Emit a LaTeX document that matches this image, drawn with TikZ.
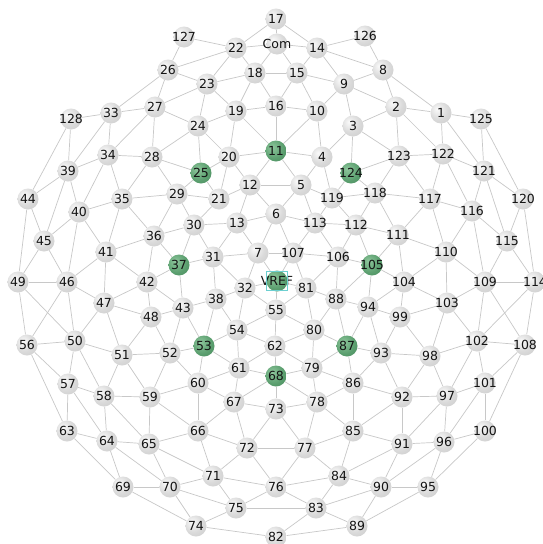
\documentclass[tikz,border=0pt]{standalone}
\usepackage{fontspec}
\setmainfont{DejaVu Sans}
\usetikzlibrary{backgrounds}
\definecolor{edgec}{HTML}{C8C8C8}
\definecolor{txt}{HTML}{141414}
\definecolor{gA}{HTML}{FAFAFA}
\definecolor{gB}{HTML}{DADADA}
\definecolor{gC}{HTML}{C0C0C0}
\definecolor{nA}{HTML}{8FC79D}
\definecolor{nB}{HTML}{5A9E6E}
\definecolor{nC}{HTML}{3C7A50}
\definecolor{vbox}{HTML}{6CCFD0}
\pgfdeclareradialshading{greyball}{\pgfpoint{-10bp}{10bp}}{color(0bp)=(gA); color(22bp)=(gB); color(55bp)=(gC); color(70bp)=(gC)}
\pgfdeclareradialshading{greenball}{\pgfpoint{-10bp}{10bp}}{color(0bp)=(nA); color(25bp)=(nB); color(55bp)=(nC); color(70bp)=(nC)}
\newcommand\lbl[1]{\makebox[0pt]{#1}}
\tikzset{
  gnode/.style={circle, minimum size=21pt, inner sep=0pt, shading=greyball, text=txt, font=\fontsize{12.5}{14}\selectfont},
  grnode/.style={gnode, shading=greenball},
  edge/.style={draw=edgec, line width=0.7pt},
  vrefbox/.style={draw=vbox, line width=1pt, minimum width=21pt, minimum height=19pt, inner sep=0pt}
}
\begin{document}
\begin{tikzpicture}[x=1pt,y=-1pt]
\useasboundingbox (0,0) rectangle (542,544);
% grey nodes
\foreach \n/\x/\y in {17/276/19, 14/317/48, 126/365/36, 8/383/70, 127/184/37, 22/236/48,
 26/168/70, 18/255/73, 15/297/73, 9/344/84, 2/396/107, 1/441/113, 125/481/119,
 23/207/84, 27/155/107, 33/111/113, 128/71/119, 19/236/111, 16/276/106, 10/317/111,
 3/353/126, 24/198/126, 4/322/157, 20/229/157, 28/152/157, 34/108/155, 39/68/171,
 123/399/156, 122/443/154, 121/484/171, 12/250/185, 5/301/185, 119/332/198,
 118/375/193, 117/430/199, 116/472/211, 120/523/199, 44/28/199, 40/79/212, 35/122/199,
 29/177/194, 21/219/199, 30/194/225, 13/237/223, 6/276/214, 113/315/223, 112/356/225,
 111/398/235, 115/507/241, 110/446/252, 45/44/241, 41/106/252, 36/154/236,
 31/213/257, 7/258/253, 107/293/253, 106/338/257, 109/485/282, 114/535/282,
 49/18/282, 46/67/282, 42/147/282, 32/245/288, 81/306/288, 88/336/299, 104/404/282,
 47/104/303, 48/151/317, 43/183/308, 38/216/299, 55/276/310, 94/368/307, 99/400/317,
 103/447/303, 56/27/345, 50/75/341, 51/122/355, 52/170/353, 54/237/330, 62/275/346,
 80/314/330, 93/381/353, 98/430/356, 102/477/341, 108/525/345, 57/68/384, 58/104/396,
 59/150/397, 60/198/383, 61/239/368, 79/312/368, 86/353/383, 92/402/397, 97/447/396,
 101/485/383, 63/67/431, 64/107/441, 65/149/444, 66/198/431, 67/234/402, 73/276/409,
 78/317/402, 85/353/431, 91/402/444, 96/444/442, 100/485/431, 69/123/487, 70/170/487,
 71/213/476, 72/247/448, 77/305/448, 84/339/476, 76/276/487, 90/381/487, 95/428/487,
 74/196/526, 75/236/508, 83/316/508, 89/357/526, 82/276/537}
  \node[gnode] (\n) at (\x,\y) {\lbl{\n}};
\node[gnode] (Com) at (277,44) {\lbl{Com}};
% green nodes
\foreach \n/\x/\y in {11/276/151, 25/201/173, 124/351/173, 37/179/265, 105/372/265,
 53/204/346, 87/347/346, 68/276/376}
  \node[grnode] (\n) at (\x,\y) {\lbl{\n}};
\node[grnode] (VREF) at (277,281) {\lbl{VREF}};
\node[vrefbox] (vrefframe) at (VREF.center) {};
% edges
\begin{scope}[on background layer]
\fill[white] (0,0) rectangle (542,544);
\foreach \a/\b in {17/22, 17/Com, 17/14, 127/22, 127/26, 22/Com, 22/18, 22/23, 22/26,
 Com/18, Com/15, Com/14, 14/15, 14/9, 14/126, 14/8, 126/8, 8/9, 8/2, 8/1,
 18/15, 18/16, 18/19, 18/23, 15/16, 15/10, 15/9, 9/10, 9/2, 9/3,
 23/19, 23/24, 23/27, 23/26, 19/16, 19/24, 19/20, 19/11, 16/10, 16/11,
 10/11, 10/4, 2/3, 2/1, 2/123, 2/122, 1/125, 1/122, 1/121, 125/121, 125/120,
 3/4, 3/123, 3/124, 4/11, 4/5, 4/119, 122/123, 122/121, 122/117, 122/116,
 121/116, 121/115, 121/120, 123/124, 123/117, 123/118,
 26/27, 26/33, 33/27, 33/34, 33/39, 33/128, 27/24, 27/28, 27/34, 128/39, 128/44,
 24/20, 24/25, 24/28, 20/11, 20/12, 20/21, 20/25, 11/12, 11/5,
 12/5, 12/6, 12/13, 12/21, 5/6, 5/113, 5/119, 119/124, 119/118, 119/112, 119/113,
 124/118, 118/117, 118/111, 118/112, 117/116, 117/110, 117/111,
 116/115, 116/109, 116/110, 120/115, 120/114, 115/109, 115/114,
 34/28, 34/35, 34/40, 34/39, 39/44, 39/45, 39/40, 28/25, 28/29, 28/35,
 25/21, 25/29, 21/29, 21/30, 13/6, 13/7, 13/30, 13/31, 6/7, 6/107, 6/113,
 113/112, 113/106, 113/107, 112/111, 112/105, 112/106, 111/110, 111/104, 111/105,
 110/109, 110/103, 110/104, 109/114, 109/103, 109/102, 109/108, 114/102, 114/108,
 44/45, 44/49, 40/35, 40/41, 40/46, 40/45, 35/29, 35/36, 35/41, 29/30, 29/36,
 30/36, 30/37, 30/31, 31/7, 31/32, 31/38, 31/37, 7/107, 7/VREF, 7/32,
 107/106, 107/81, 107/VREF, 106/105, 106/88, 106/81, 105/104, 105/94, 105/88,
 104/103, 104/99, 104/94, 103/102, 103/98, 103/99, 45/49, 45/46,
 41/36, 41/42, 41/47, 41/46, 36/37, 36/42, 37/42, 37/43,
 VREF/32, VREF/81, VREF/55, 32/55, 32/54, 32/38, 81/88, 81/80, 81/55,
 88/94, 88/87, 88/80, 94/99, 94/93, 94/87, 99/98, 99/93,
 102/98, 102/97, 102/101, 102/108, 108/101, 108/100,
 49/46, 49/56, 49/50, 46/47, 46/50, 46/56, 42/47, 42/48, 42/43,
 43/48, 43/38, 43/53, 43/52, 38/54, 38/53, 55/54, 55/62, 55/80,
 80/62, 80/79, 80/87, 87/79, 87/86, 87/93, 93/98, 93/92, 93/86, 98/92, 98/97,
 47/48, 47/51, 47/50, 48/51, 48/52, 56/50, 56/57, 56/63, 50/57, 50/58, 50/51,
 51/52, 51/59, 51/58, 52/53, 52/60, 52/59, 53/54, 53/61, 53/60, 54/62, 54/61,
 62/61, 62/68, 62/79, 79/68, 79/78, 79/86, 86/78, 86/85, 86/92,
 92/85, 92/91, 92/97, 97/91, 97/96, 97/101, 101/96, 101/100,
 57/58, 57/64, 57/63, 58/59, 58/64, 58/65, 59/60, 59/65, 59/66,
 60/61, 60/67, 60/66, 61/68, 61/67, 68/67, 68/73, 68/78,
 78/73, 78/77, 78/85, 85/77, 85/84, 85/91, 91/96, 91/90, 91/84,
 96/100, 96/95, 96/90, 100/95, 63/64, 63/69, 64/65, 64/69, 64/70,
 65/66, 65/70, 65/71, 66/67, 66/72, 66/71, 67/73, 67/72, 73/72, 73/77,
 72/77, 72/76, 72/71, 77/76, 77/84, 84/76, 84/83, 84/90, 90/83, 90/89, 90/95,
 95/89, 69/70, 69/74, 70/71, 70/75, 70/74, 71/75, 71/76, 76/75, 76/83,
 75/74, 75/83, 74/82, 83/82, 83/89, 82/89}
  \draw[edge] (\a) -- (\b);
\end{scope}
\end{tikzpicture}
\end{document}
